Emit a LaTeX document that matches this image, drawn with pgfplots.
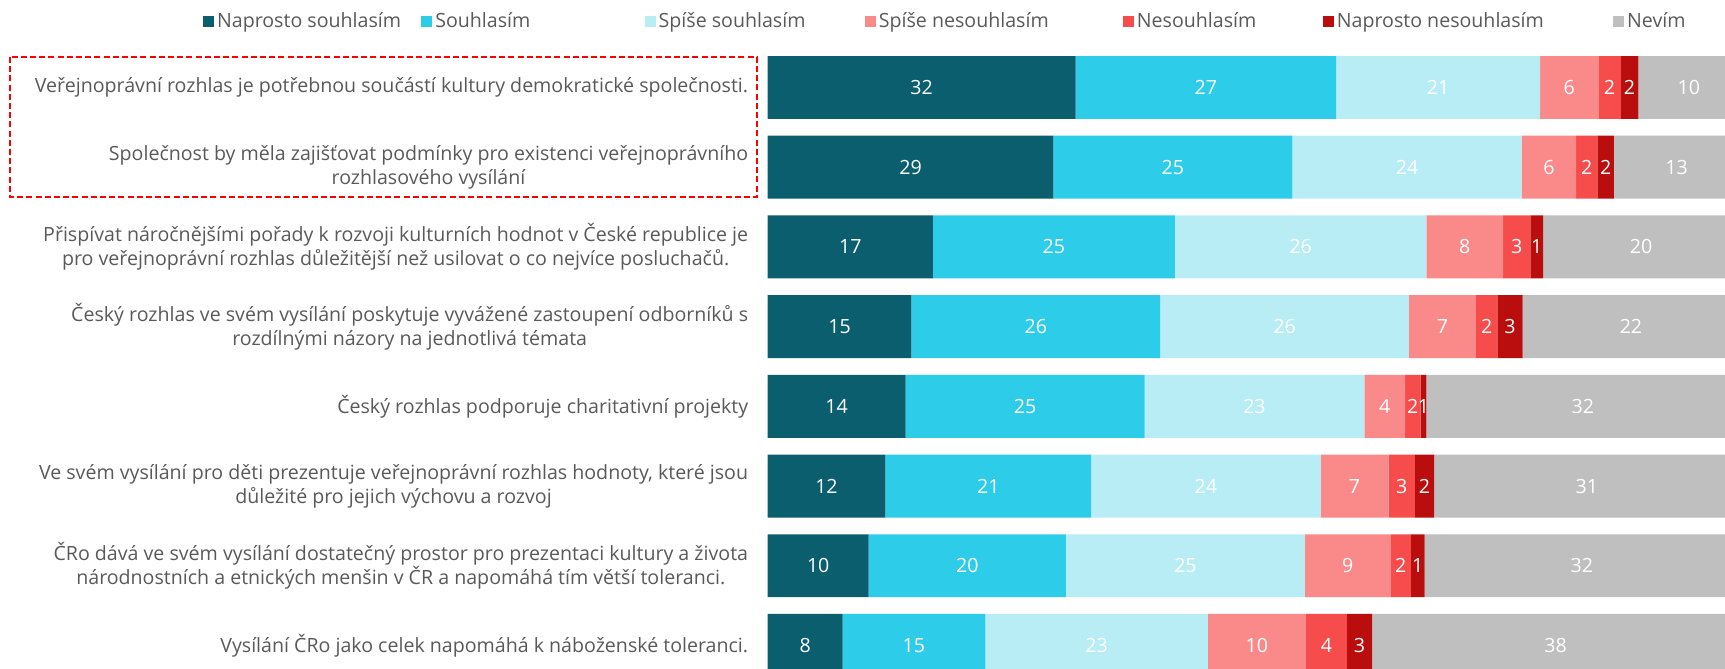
\documentclass[border=0pt]{standalone}
\usepackage{fontspec}
\setmainfont{Open Sans}
\usepackage{pgfplots}
\usepackage{pgfplotstable}
\pgfplotsset{compat=1.18}
\pgfkeys{/pgf/number format/assume math mode=true}

\definecolor{c1}{HTML}{0B5E6E}
\definecolor{c2}{HTML}{2DCCE8}
\definecolor{c3}{HTML}{B8EDF6}
\definecolor{c4}{HTML}{FA8A89}
\definecolor{c5}{HTML}{F64D4C}
\definecolor{c6}{HTML}{BA0D0D}
\definecolor{c7}{HTML}{BFBFBF}
\definecolor{txt}{HTML}{595959}

% shares in %, one row per statement (top to bottom)
\pgfplotstableread{
y  a    b    c    d    e   f   g
1  31.7 26.8 21.0 6.0  2.3 1.8 10.4
2  29.4 24.6 23.6 5.6  2.2 1.7 12.9
3  17.0 24.9 25.9 7.9  2.8 1.3 20.2
4  14.8 25.6 25.6 6.9  2.2 2.6 22.3
5  14.2 24.6 22.6 4.2  1.6 0.6 32.2
6  12.1 21.2 23.6 7.0  2.7 2.0 31.4
7  10.4 20.3 24.6 8.8  2.1 1.4 32.4
8  7.7  14.7 22.9 10.1 4.2 2.6 37.8
}\datatab

\newcommand{\lbl}{\fontsize{9.8}{12}\selectfont}

\begin{document}
\begin{tikzpicture}
\path[use as bounding box] (0,0) rectangle (862.5pt,-334.5pt);
% the axis runs a little past the right edge of the picture, as in the source
\begin{axis}[
  at={(383.85pt,-23.825pt)}, anchor=north west,
  width=485.8pt, height=310.65pt, scale only axis,
  xbar stacked, bar width=0.79,
  xmin=0, xmax=100,
  ymin=0.5, ymax=8.295, y dir=reverse,
  axis line style={draw=none}, major tick length=0,
  xtick=\empty,
  ytick={1,...,8},
  yticklabels={
    {Veřejnoprávní rozhlas je potřebnou součástí kultury demokratické společnosti.},
    {Společnost by měla zajišťovat podmínky pro existenci veřejnoprávního\\rozhlasového vysílání},
    {Přispívat náročnějšími pořady k rozvoji kulturních hodnot v České republice je\\pro veřejnoprávní rozhlas důležitější než usilovat o co nejvíce posluchačů.},
    {Český rozhlas ve svém vysílání poskytuje vyvážené zastoupení odborníků s\\rozdílnými názory na jednotlivá témata},
    {Český rozhlas podporuje charitativní projekty},
    {Ve svém vysílání pro děti prezentuje veřejnoprávní rozhlas hodnoty, které jsou\\důležité pro jejich výchovu a rozvoj},
    {ČRo dává ve svém vysílání dostatečný prostor pro prezentaci kultury a života\\národnostních a etnických menšin v ČR a napomáhá tím větší toleranci.},
    {Vysílání ČRo jako celek napomáhá k náboženské toleranci.}
  },
  yticklabel style={align=center, font=\lbl, text=txt, inner sep=0pt, anchor=east, xshift=-9.6pt},
  every axis plot/.append style={draw=none},
  visualization depends on=rawx\as\rawx,
  nodes near coords={\pgfmathprintnumber[fixed,precision=0]{\rawx}},
  nodes near coords style={font=\lbl, text=white, anchor=center},
  legend columns=7,
  legend style={at={(-0.5815,1.0429)}, anchor=west, draw=none, fill=none,
    font=\lbl, text=txt, inner xsep=0pt, inner ysep=0pt,
    nodes={inner xsep=1.5pt},
    /tikz/every even column/.append style={column sep=0pt}},
  legend image code/.code={\fill[#1] (0pt,-2.75pt) rectangle (5.5pt,2.75pt);},
]
\addplot[fill=c1] table[x=a,y=y]{\datatab};
\addplot[fill=c2] table[x=b,y=y]{\datatab};
\addplot[fill=c3] table[x=c,y=y]{\datatab};
\addplot[fill=c4] table[x=d,y=y]{\datatab};
\addplot[fill=c5] table[x=e,y=y]{\datatab};
\addplot[fill=c6] table[x=f,y=y]{\datatab};
\addplot[fill=c7] table[x=g,y=y]{\datatab};
\legend{\makebox[100.6pt][l]{Naprosto souhlasím},\makebox[103.2pt][l]{Souhlasím},
  \makebox[101.6pt][l]{Spíše souhlasím},\makebox[120.5pt][l]{Spíše nesouhlasím},
  \makebox[91.5pt][l]{Nesouhlasím},\makebox[136.6pt][l]{Naprosto nesouhlasím},Nevím}
\end{axis}
\draw[red, line width=1.1pt, dash pattern=on 3pt off 1.6pt]
  (5pt,-28.5pt) rectangle (378.5pt,-98.5pt);
\end{tikzpicture}
\end{document}
